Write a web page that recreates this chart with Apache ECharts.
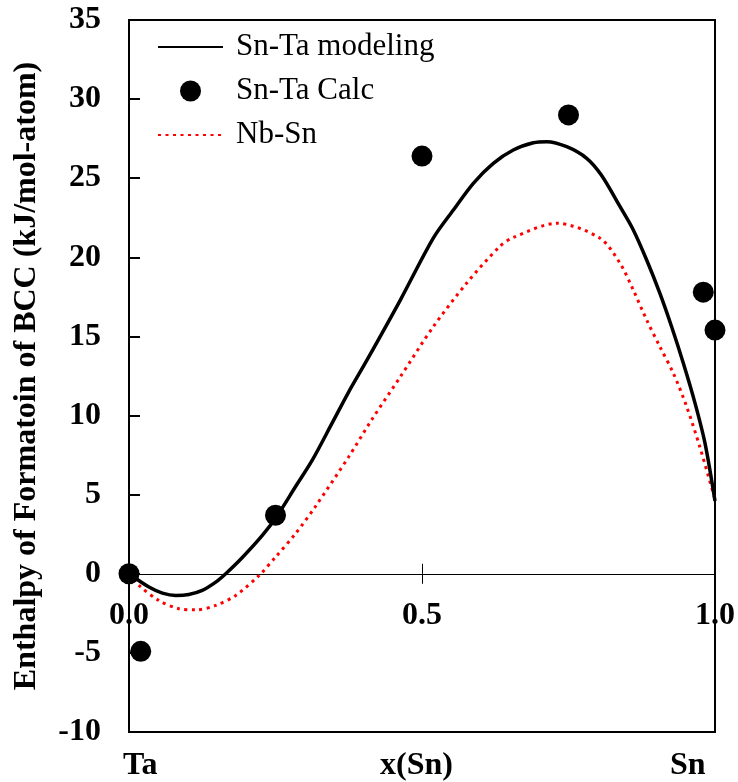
<!DOCTYPE html>
<html>
<head>
<meta charset="utf-8">
<script src="https://cdn.jsdelivr.net/npm/echarts@6/dist/echarts.min.js"></script>
<style>
html,body{margin:0;padding:0;background:#fff;}
#chart{width:738px;height:782px;}
</style>
</head>
<body>
<div id="chart"></div>
<script>
// ---- data ----
const seriesNames = ['Sn-Ta modeling', 'Sn-Ta Calc', 'Nb-Sn'];

const modelX = [0, 0.034, 0.057, 0.080, 0.102, 0.125, 0.148, 0.165, 0.193, 0.2275, 0.252, 0.284, 0.313, 0.347, 0.375, 0.406, 0.463, 0.519, 0.5535, 0.5876, 0.6217, 0.6558, 0.69, 0.7128, 0.747, 0.781, 0.806, 0.838, 0.8606, 0.8834, 0.906, 0.926, 0.946, 0.966, 0.983, 1.0];
const modelY = [0, -0.84, -1.22, -1.37, -1.31, -1.05, -0.53, 0, 1.01, 2.42, 3.62, 5.5, 7.2, 9.55, 11.5, 13.5, 17.3, 21.2, 22.99, 24.68, 25.94, 26.78, 27.24, 27.31, 26.99, 26.26, 25.2, 23.2, 21.73, 19.83, 17.72, 15.61, 13.3, 10.77, 8.24, 4.6];

const calcX = [0, 0.02, 0.25, 0.5, 0.75, 0.98, 1.0];
const calcY = [0, -4.9, 3.7, 26.4, 29.0, 17.8, 15.4];

const nbX = [0, 0.017, 0.051, 0.085, 0.114, 0.148, 0.182, 0.222, 0.25, 0.284, 0.319, 0.375, 0.414, 0.463, 0.519, 0.576, 0.633, 0.656, 0.73, 0.804, 0.838, 0.8606, 0.8834, 0.906, 0.929, 0.9517, 0.974, 1.0];
const nbY = [0, -0.74, -1.69, -2.21, -2.28, -2.0, -1.37, -0.1, 1.05, 2.53, 4.3, 7.4, 9.72, 12.45, 15.6, 18.36, 20.7, 21.26, 22.15, 21.2, 19.62, 17.93, 16.04, 14.35, 12.67, 10.56, 8.03, 4.7];

const xMin = 0, xMax = 1, xStep = 0.5;
const yMin = -10, yMax = 35, yStep = 5;
const yTitle = 'Enthalpy of Formatoin of BCC (kJ/mol-atom)';
const bottomLabels = ['Ta', 'x(Sn)', 'Sn'];

// ---- chart ----
const zip = (xs, ys) => xs.map((x, i) => [x, ys[i]]);
const serif = "'Liberation Serif', 'Times New Roman', serif";

const gridTop = 20, gridBottom = 50, gridLeft = 129, gridRight = 23;
const gridH = 782 - gridTop - gridBottom;
const zeroOffset = -((0 - yMin) / (yMax - yMin)) * gridH;

const chart = echarts.init(document.getElementById('chart'), null, {renderer: 'canvas'});
chart.setOption({
  animation: false,
  backgroundColor: '#fff',
  grid: {
    left: gridLeft, right: gridRight, top: gridTop, bottom: gridBottom,
    outerBoundsMode: 'none', containLabel: false,
    show: true, borderColor: '#000', borderWidth: 2, backgroundColor: 'transparent'
  },
  legend: {
    orient: 'vertical',
    left: 157, top: 29,
    padding: 0,
    itemWidth: 65, itemHeight: 21, itemGap: 8,
    data: [
      {name: seriesNames[0], itemStyle: {opacity: 0}},
      {name: seriesNames[1]},
      {name: seriesNames[2], itemStyle: {opacity: 0}}
    ],
    textStyle: {fontFamily: serif, fontSize: 31, color: '#000', lineHeight: 36, padding: [0, 0, 0, 8]}
  },
  xAxis: [{
    type: 'value', min: xMin, max: xMax, interval: xStep,
    position: 'bottom', offset: zeroOffset,
    axisLine: {show: true, onZero: false, lineStyle: {color: '#000', width: 1}},
    axisTick: {show: true, inside: true, length: 10, lineStyle: {color: '#000', width: 1}},
    axisLabel: {show: true, margin: 26, fontFamily: serif, fontSize: 32, fontWeight: 'bold', color: '#000',
      formatter: v => v.toFixed(1)},
    splitLine: {show: false}
  }, {
    type: 'value', min: xMin, max: xMax, interval: xStep,
    position: 'bottom', offset: zeroOffset,
    axisLine: {show: false, onZero: false},
    axisTick: {show: true, inside: false, length: 10, lineStyle: {color: '#000', width: 1}},
    axisLabel: {show: false},
    splitLine: {show: false}
  }],
  yAxis: {
    type: 'value', min: yMin, max: yMax, interval: yStep,
    name: yTitle, nameLocation: 'middle', nameGap: 86,
    nameTextStyle: {fontFamily: serif, fontSize: 32, fontWeight: 'bold', color: '#000'},
    axisLine: {show: true, onZero: false, lineStyle: {color: '#000', width: 2}},
    axisTick: {show: true, inside: true, length: 11, lineStyle: {color: '#000', width: 2}},
    axisLabel: {margin: 28, fontFamily: serif, fontSize: 32, fontWeight: 'bold', color: '#000'},
    splitLine: {show: false}
  },
  series: [{
    name: seriesNames[0], type: 'line', data: zip(modelX, modelY),
    smooth: 0.3, symbol: 'none', clip: false, z: 3,
    lineStyle: {color: '#000', width: 3.5}, itemStyle: {color: '#000', opacity: 0}
  }, {
    name: seriesNames[1], type: 'scatter', data: zip(calcX, calcY),
    symbol: 'circle', symbolSize: 21, clip: false, z: 5,
    itemStyle: {color: '#000', opacity: 1}
  }, {
    name: seriesNames[2], type: 'line', data: zip(nbX, nbY),
    smooth: 0.3, symbol: 'none', clip: false, z: 2,
    lineStyle: {color: '#ff0000', width: 3, type: [3, 4.5]}, itemStyle: {color: '#ff0000', opacity: 0}
  }],
  graphic: [
    {type: 'text', left: 143 - 20, top: 750, style: {text: bottomLabels[0], font: "bold 32px " + serif, fill: '#000'}},
    {type: 'text', left: 421 - 41, top: 750, style: {text: bottomLabels[1], font: "bold 32px " + serif, fill: '#000'}},
    {type: 'text', left: 690 - 20, top: 750, style: {text: bottomLabels[2], font: "bold 32px " + serif, fill: '#000'}}
  ]
});
</script>
</body>
</html>
